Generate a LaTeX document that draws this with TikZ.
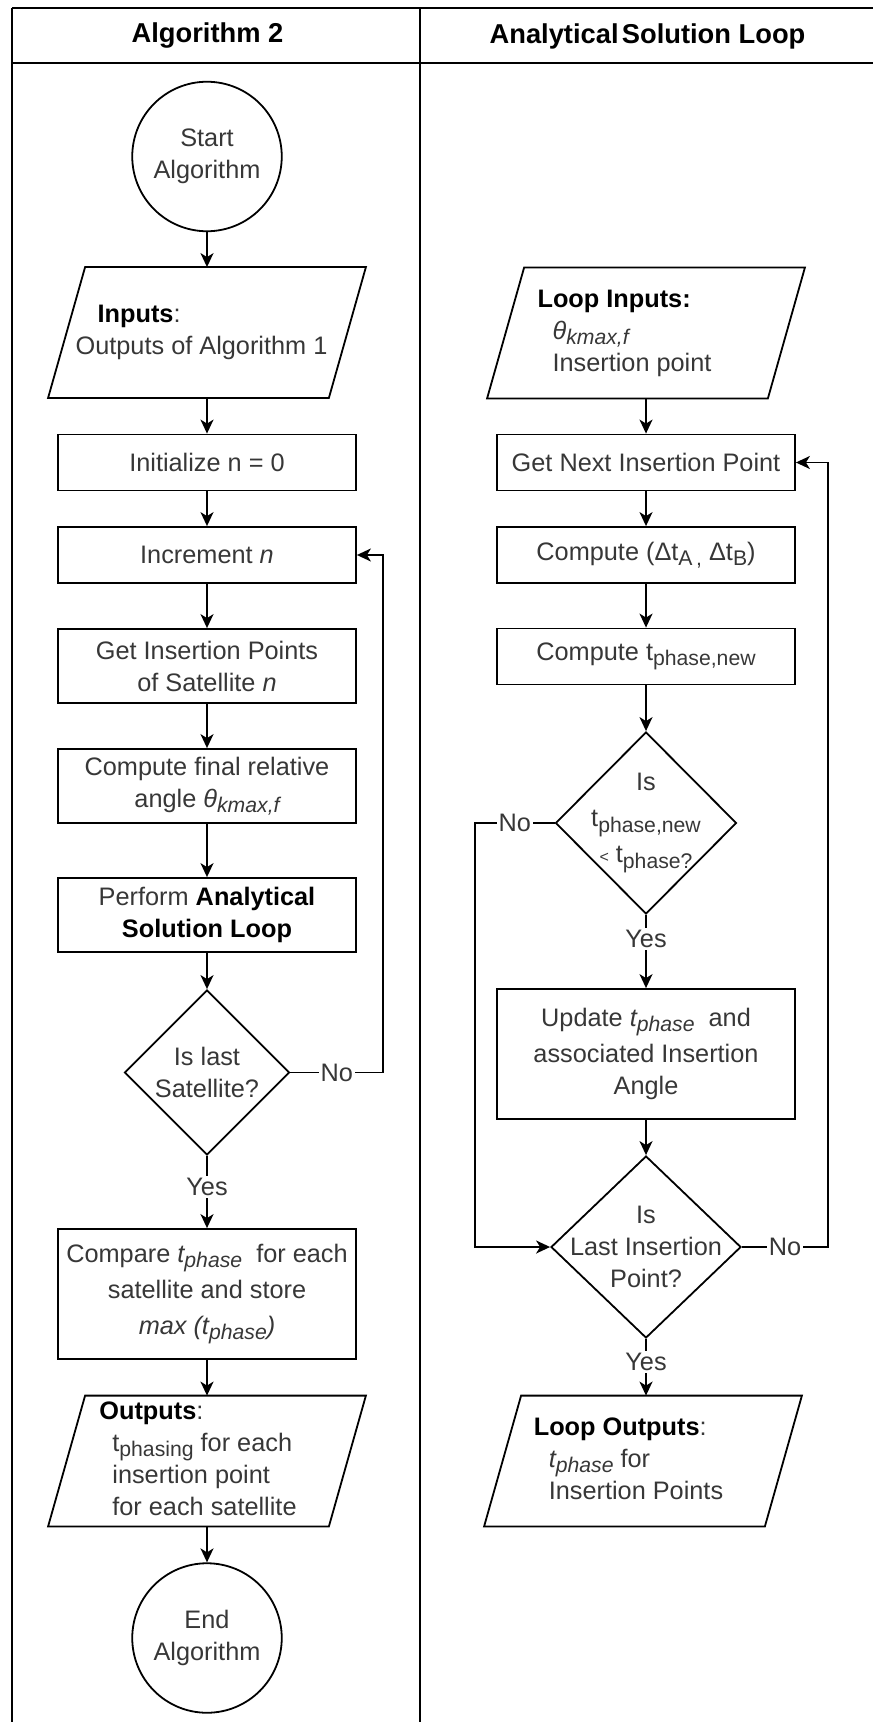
\documentclass[tikz,border=0pt]{standalone}
\usepackage{fontspec}
\setmainfont{Liberation Sans}
\usetikzlibrary{arrows.meta,shapes.geometric}
\newdimen\pu
\pu=0.5pt
\definecolor{txt}{RGB}{55,55,55}
\newcommand\bb[1]{{\color{black}\bfseries #1}}
\newcommand\sub[1]{\raisebox{-2.6pt}{\fontsize{10.6}{12}\selectfont #1}}
\newcommand\ioframe[1]{\draw ([xshift=9.25pt]#1.north west) -- ([xshift=9.25pt]#1.north east) -- ([xshift=-9.25pt]#1.south east) -- ([xshift=-9.25pt]#1.south west) -- cycle;}
\begin{document}
\begin{tikzpicture}[x=0.5pt,y=-0.5pt,line width=0.9pt,
  every node/.style={font=\fontsize{12.65}{16}\selectfont,text=txt},
  box/.style={draw,rectangle,minimum width=149pt,inner sep=1pt,align=center},
  hs/.style={minimum height=28pt},
  hm/.style={minimum height=37pt},
  hl/.style={minimum height=65pt},
  io/.style={rectangle,minimum width=139.5pt,minimum height=64.5pt,inner sep=0pt},
  term/.style={draw,circle,minimum size=74.75pt,inner sep=0pt,align=center},
  dec/.style={draw,diamond,inner sep=0pt},
  lbl/.style={fill=white,inner sep=1pt},
  arr/.style={-{Stealth[length=7pt,width=6.5pt,inset=2pt]}},
  head/.style={font=\fontsize{13.65}{16}\selectfont\bfseries,text=black}
]
\useasboundingbox (0,0) rectangle (873,1722);
% swimlane frame
\draw (12,8) -- (873,8);
\draw (12,63) -- (873,63);
\draw (12,8) -- (12,1722);
\draw (420,8) -- (420,1722);
\node[head] (h1) at (207.5,36) {Algorithm 2};
\node[head] (h2) at (647.5,36) {Analytical\hspace{0.12em}Solution Loop};
% helper coordinates for loop-back lines
\coordinate (lL) at (383,555);
\coordinate (lR1) at (475,823);
\coordinate (lR2) at (828,1247);
% left lane
\node[term] (start) at (207,156.5) {Start\\Algorithm};
\node[io] (in) at (207,332.5) {\begin{tabular}{@{}l@{}}\hspace*{22\pu}\bb{Inputs}:\\Outputs of Algorithm 1\end{tabular}\hspace*{11\pu}};
\ioframe{in}
\node[box,hs] (init) at (207,462.5) {Initialize n = 0};
\node[box,hs] (inc) at (207,555) {Increment \textit{n}};
\node[box,hm] (getp) at (207,666) {Get Insertion Points\\of Satellite \textit{n}};
\node[box,hm] (cfin) at (207,786) {Compute final relative\\angle \textit{θ\sub{kmax,f}}};
\node[box,hm] (perf) at (207,915) {Perform \bb{Analytical}\\\bb{Solution Loop}};
\node[dec,minimum width=82.5pt,minimum height=82.5pt,label={[align=center]center:{Is last\\Satellite?}}] (d1) at (207,1072.5) {};
\node[box,hl] (cmp) at (207,1294) {Compare \textit{t\sub{phase}}\ \ for each\\[2pt]satellite and store\\[2pt]\textit{max (t\sub{phase})}};
\node[io] (out) at (207,1461) {\begin{tabular}{@{}l@{}}\bb{Outputs}:\\\hspace*{13\pu}t\sub{phasing} for each\\\hspace*{13\pu}insertion point\\\hspace*{13\pu}for each satellite\end{tabular}\hspace*{18\pu}};
\ioframe{out}
\node[term] (end) at (207,1638) {End\\Algorithm};
% right lane
\node[io] (lin) at (646,333) {\begin{tabular}{@{}l@{}}\bb{Loop Inputs:}\\\hspace*{15\pu}\textit{θ\sub{kmax,f}}\\\hspace*{15\pu}Insertion point\end{tabular}\hspace*{43\pu}};
\ioframe{lin}
\node[box,hs] (gnext) at (646,462.5) {Get Next Insertion Point};
\node[box,hs] (cdt) at (646,555) {Compute (Δt\sub{A\,,} Δt\sub{B})};
\node[box,hs] (cnew) at (646,656.5) {Compute t\sub{phase,new}};
\node[dec,minimum width=90.5pt,minimum height=91pt,label={[align=center]center:{Is\\[2pt]t\sub{phase,new}\\[2pt]{\fontsize{8}{8}\selectfont<} t\sub{phase?}}}] (d2) at (646,823) {};
\node[box,hl] (upd) at (646,1054) {Update \textit{t\sub{phase}}\ \ and\\[2pt]associated Insertion\\Angle};
\node[dec,minimum width=95pt,minimum height=91pt,label={[align=center]center:{Is\\Last Insertion\\Point?}}] (d3) at (646,1247) {};
\node[io] (lout) at (643,1461) {\begin{tabular}{@{}l@{}}\bb{Loop Outputs}:\\\hspace*{15\pu}\textit{t\sub{phase}} for\\\hspace*{15\pu}Insertion Points\end{tabular}\hspace*{29\pu}};
\ioframe{lout}
% connectors left
\draw[arr] (start) -- (in);
\draw[arr] (in) -- (init);
\draw[arr] (init) -- (inc);
\draw[arr] (inc) -- (getp);
\draw[arr] (getp) -- (cfin);
\draw[arr] (cfin) -- (perf);
\draw[arr] (perf) -- (d1);
\draw[arr] (d1) -- node[lbl,pos=0.43] (y1) {Yes} (cmp);
\draw[arr] (d1.east) -- node[lbl] (n1) {No} (d1.east -| lL) |- (inc.east);
\draw[arr] (cmp) -- (out);
\draw[arr] (out) -- (end);
% connectors right
\draw[arr] (lin) -- (gnext);
\draw[arr] (gnext) -- (cdt);
\draw[arr] (cdt) -- (cnew);
\draw[arr] (cnew) -- (d2);
\draw[arr] (d2) -- node[lbl,pos=0.33] (y2) {Yes} (upd);
\draw[arr] (d2.west) -- node[lbl] (n2) {No} (d2.west -| lR1) |- (d3.west);
\draw[arr] (upd) -- (d3);
\draw[arr] (d3.east) -- node[lbl] (n3) {No} (d3.east -| lR2) |- (gnext.east);
\draw[arr] (d3.south) -- node[lbl,pos=0.41] (y3) {Yes} (d3.south |- lout.north);
\end{tikzpicture}
\end{document}
